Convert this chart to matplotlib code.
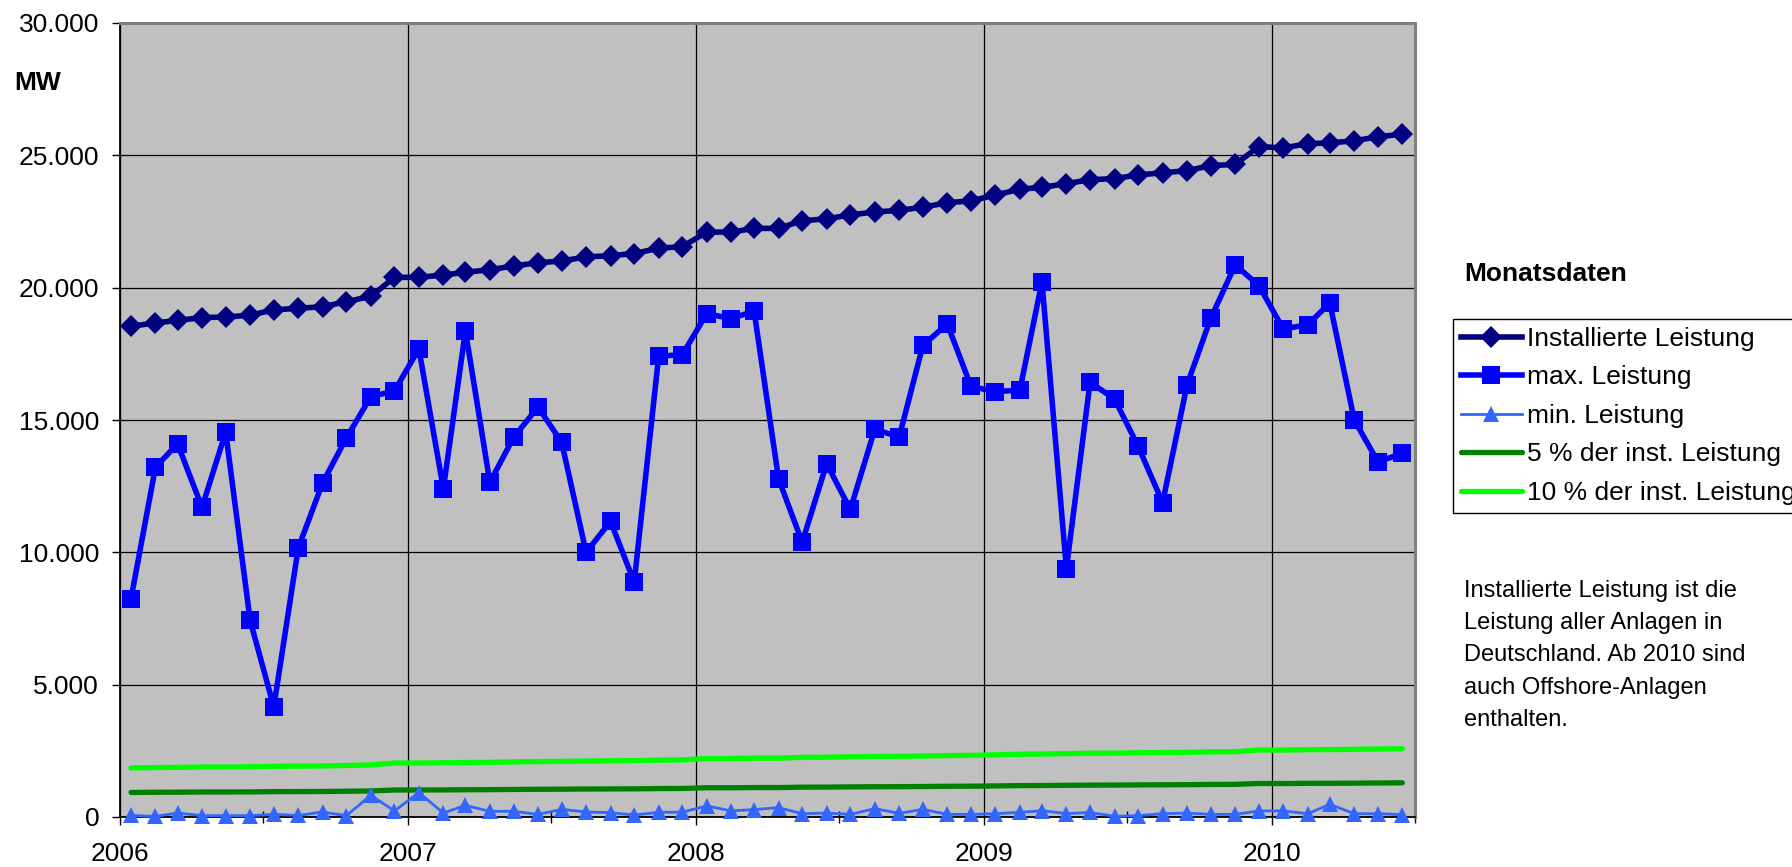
import matplotlib
matplotlib.use("Agg")
import matplotlib.pyplot as plt
import matplotlib.dates as mdates
from matplotlib.ticker import FuncFormatter, MultipleLocator
import pandas as pd

plt.rcParams['font.family'] = ['Liberation Sans', 'DejaVu Sans']

# ---- data (monthly, Jan 2006 - Jun 2010) ----
months = pd.date_range("2006-01-01", periods=54, freq="MS") + pd.Timedelta(days=14)

installed = [18540, 18670, 18760, 18870, 18890, 18960, 19160, 19220, 19280, 19470, 19670, 20390,
             20390, 20480, 20580, 20680, 20820, 20940, 21010, 21160, 21210, 21290, 21490, 21550,
             22100, 22100, 22240, 22240, 22530, 22600, 22750, 22860, 22920, 23040, 23210, 23280,
             23500, 23720, 23790, 23930, 24080, 24120, 24260, 24340, 24420, 24610, 24660, 25330,
             25280, 25440, 25470, 25550, 25700, 25800]

max_power = [8250, 13220, 14100, 11700, 14540, 7430, 4160, 10160, 12630, 14320, 15880, 16100,
             17690, 12400, 18370, 12640, 14340, 15490, 14160, 10000, 11170, 8870, 17410, 17470,
             19020, 18830, 19120, 12780, 10380, 13350, 11620, 14650, 14360, 17820, 18630, 16270,
             16070, 16130, 20220, 9380, 16420, 15800, 14000, 11880, 16330, 18840, 20860, 20080,
             18440, 18600, 19420, 15000, 13420, 13740]

min_power = [60, 25, 150, 50, 50, 50, 100, 60, 190, 50, 820, 230,
             920, 150, 440, 215, 215, 100, 290, 190, 165, 75, 180, 180,
             420, 230, 280, 355, 125, 150, 100, 315, 140, 290, 100, 100,
             125, 175, 240, 125, 175, 25, 50, 125, 150, 100, 100, 230,
             230, 125, 480, 125, 125, 90]

pct5 = [927, 934, 938, 944, 945, 948, 958, 961, 964, 974, 984, 1020,
        1020, 1024, 1029, 1034, 1041, 1047, 1051, 1058, 1061, 1065, 1075, 1078,
        1105, 1105, 1112, 1112, 1127, 1130, 1138, 1143, 1146, 1152, 1161, 1164,
        1175, 1186, 1190, 1197, 1204, 1206, 1213, 1217, 1221, 1231, 1233, 1267,
        1264, 1272, 1274, 1278, 1285, 1290]

pct10 = [1854, 1867, 1876, 1887, 1889, 1896, 1916, 1922, 1928, 1947, 1967, 2039,
         2039, 2048, 2058, 2068, 2082, 2094, 2101, 2116, 2121, 2129, 2149, 2155,
         2210, 2210, 2224, 2224, 2253, 2260, 2275, 2286, 2292, 2304, 2321, 2328,
         2350, 2372, 2379, 2393, 2408, 2412, 2426, 2434, 2442, 2461, 2466, 2533,
         2528, 2544, 2547, 2555, 2570, 2580]

labels = ["Installierte Leistung", "max. Leistung", "min. Leistung",
          "5 % der inst. Leistung", "10 % der inst. Leistung"]
note = ("Installierte Leistung ist die\nLeistung aller Anlagen in\n"
        "Deutschland. Ab 2010 sind\nauch Offshore-Anlagen\nenthalten.")

FS = 19
FS_NOTE = 17

fig = plt.figure(figsize=(17.92, 8.67), dpi=100)
W, H = 1792, 867
ax = fig.add_axes([120 / W, 1 - 817 / H, (1415 - 120) / W, (817 - 23) / H])
ax.set_facecolor("#C0C0C0")

c_inst, c_max, c_min, c_5, c_10 = "#000080", "#0000FF", "#3366FF", "#008000", "#00FF00"

l10, = ax.plot(months, pct10, color=c_10, lw=3.8, solid_capstyle="round", zorder=3)
l5, = ax.plot(months, pct5, color=c_5, lw=3.8, solid_capstyle="round", zorder=3)
lmin, = ax.plot(months, min_power, color=c_min, lw=2.0, marker="^", ms=12,
                markeredgewidth=0, zorder=4, clip_on=False)
lmax, = ax.plot(months, max_power, color=c_max, lw=4.0, marker="s", ms=12.5,
                markeredgewidth=0, zorder=5)
linst, = ax.plot(months, installed, color=c_inst, lw=4.0, marker="D", ms=11,
                 markeredgewidth=0, zorder=6)

ax.set_xlim(pd.Timestamp("2006-01-01"), pd.Timestamp("2010-07-01"))
ax.set_ylim(0, 30000)
ax.yaxis.set_major_locator(MultipleLocator(5000))
ax.yaxis.set_major_formatter(FuncFormatter(lambda v, p: f"{int(round(v)):,}".replace(",", ".")))
ax.xaxis.set_major_locator(mdates.YearLocator())
ax.xaxis.set_major_formatter(mdates.DateFormatter("%Y"))
ax.xaxis.set_minor_locator(mdates.MonthLocator(bymonth=7))

ax.grid(True, which="major", color="black", lw=0.9)
ax.set_axisbelow(True)
ax.tick_params(axis="y", which="major", direction="out", length=6, width=1,
               labelsize=FS, pad=9)
ax.tick_params(axis="x", which="major", direction="out", length=6, width=1,
               labelsize=FS, pad=12)
ax.tick_params(axis="x", which="minor", direction="inout", length=9, width=1)

for s in ("left", "bottom"):
    ax.spines[s].set_color("black")
    ax.spines[s].set_linewidth(1.3)
for s in ("top", "right"):
    ax.spines[s].set_color("#808080")
    ax.spines[s].set_linewidth(2.2)

fig.text(14 / W, 1 - 83 / H, "MW", fontsize=FS, fontweight="bold", va="center", ha="left")
fig.text(1464 / W, 1 - 274 / H, "Monatsdaten", fontsize=FS, fontweight="bold",
         va="center", ha="left")

leg = fig.legend([linst, lmax, lmin, l5, l10], labels,
                 loc="upper left", bbox_to_anchor=(1453 / W, 1 - 319 / H),
                 bbox_transform=fig.transFigure, fontsize=FS, frameon=True,
                 fancybox=False, edgecolor="black", framealpha=1,
                 handlelength=2.3, handletextpad=0.2, borderpad=0.3,
                 labelspacing=0.55, borderaxespad=0, numpoints=1)
leg.get_frame().set_linewidth(1.0)

fig.text(1464 / W, 1 - 580 / H, note, fontsize=FS_NOTE, va="top", ha="left",
         linespacing=1.6)

fig.savefig("out.png", dpi=100)
